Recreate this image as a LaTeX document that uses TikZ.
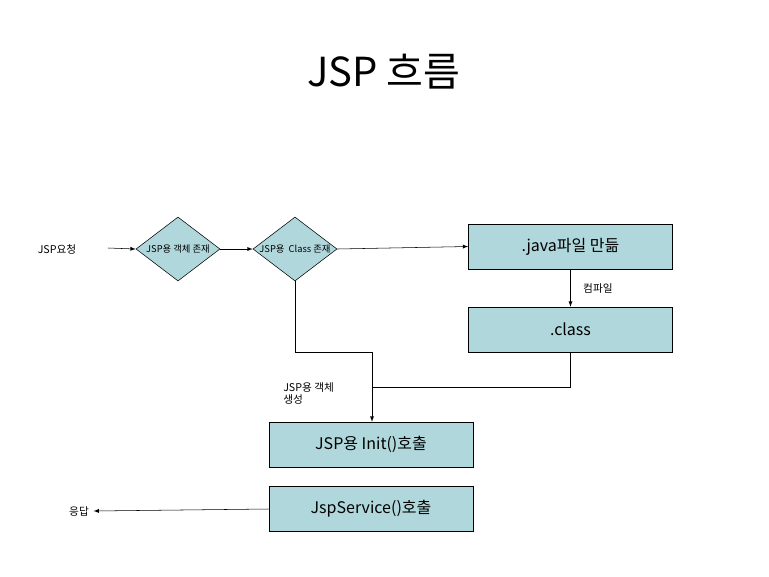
\documentclass[tikz,border=0pt]{standalone}
\usepackage{fontspec}
\setmainfont{Noto Sans CJK KR}
\usetikzlibrary{shapes.geometric}
\definecolor{boxfill}{RGB}{176,216,220}

\begin{document}
\begin{tikzpicture}[%
      x=0.75pt, y=-0.75pt,
      box/.style={draw=black, fill=boxfill, minimum width=153pt, minimum height=33.75pt, inner sep=0pt, font=\large},
      choice/.style={draw=black, fill=boxfill, diamond, minimum width=63pt, minimum height=48pt, inner sep=0pt, font=\scriptsize},
      note/.style={font=\footnotesize},
      arr/.style={->, >=latex},
      ]
      \useasboundingbox (0,0) rectangle (769,576);
      % title
      \node (title) at (384,72) {\fontsize{30}{36}\selectfont JSP 흐름};
      
      \node[note] (req) at (57,249) {JSP요청};
      \node[choice] (obj) at (178,249) {};
      \node[font=\scriptsize] at (178,249) {JSP용 객체 존재};
      \node[choice] (cls) at (295,249) {};
      \node[font=\scriptsize] at (295,249) {JSP용~~Class 존재};
      \node[box] (java) at (570.5,246.5) {.java파일 만듦};
      \node[box] (class) at (570.5,329.5) {.class};
      \node[box] (init) at (371,444.5) {JSP용 Init()호출};
      \node[box] (svc) at (371,509) {JspService()호출};
      \node[note] (resp) at (79,511) {응답};
      
      \coordinate (join) at (372,387);
      
      \draw[arr] (108,248) -- (obj.west);
      \draw[arr] (obj.east) -- (cls.west);
      \draw[arr] (cls.east) -- (java.west);
      \draw[arr] (java.south) -- node[note, right=6pt] {컴파일} (class.south |- class.north);
      \draw[arr] (cls.south) |- (372,352) -- (init.north -| join);
      \draw (class.south) |- (join);
      \draw[arr] (svc.west) -- (resp.east);
      
      \node[note, align=left, anchor=north west, inner sep=0pt] (mk) at (283,382) {JSP용 객체\\생성};
\end{tikzpicture}
\end{document}
